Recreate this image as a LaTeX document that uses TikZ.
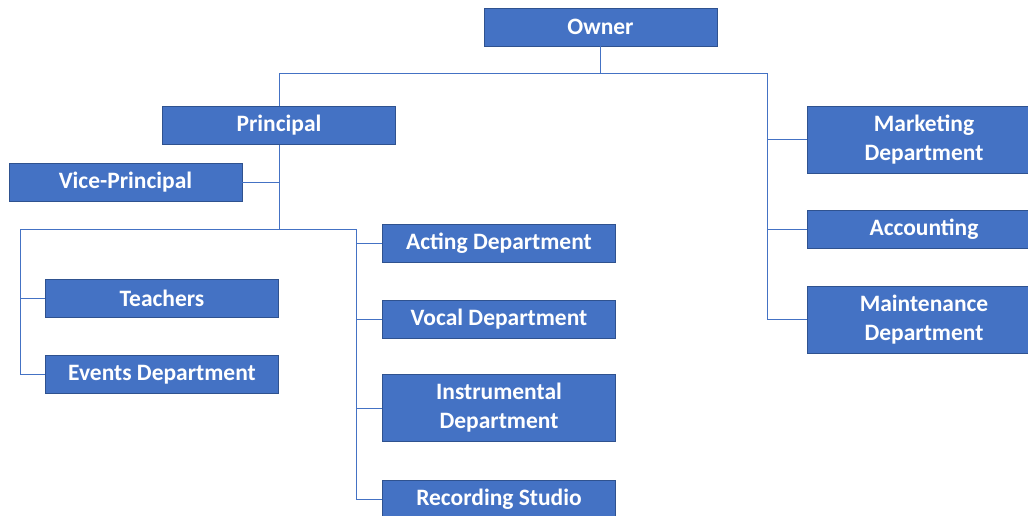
\documentclass[tikz,border=0pt]{standalone}
\usepackage{fontspec}
\setmainfont{Carlito}
\definecolor{boxfill}{HTML}{4472C4}
\definecolor{boxedge}{HTML}{2F528F}
\definecolor{linecol}{HTML}{4472C4}
\begin{document}
\begin{tikzpicture}[x=1pt,y=-1pt,
  orgbox/.style={draw=boxedge,fill=boxfill,line width=0.8pt,text=white,
    font=\fontsize{23.5}{29}\selectfont\bfseries,align=center,
    minimum width=233pt,inner sep=0pt,anchor=center},
  onebox/.style={orgbox,minimum height=38pt},
  twobox/.style={orgbox,minimum height=67pt},
  conn/.style={draw=linecol,line width=1pt}]
\useasboundingbox (0,0) rectangle (1028,515);
\node[onebox] (owner) at (600.5,27) {Owner};
\node[onebox] (principal) at (279,125.5) {Principal};
\node[onebox] (vice) at (125.5,182.5) {Vice-Principal};
\node[onebox] (teachers) at (162,298) {Teachers};
\node[onebox] (events) at (162,374.5) {Events Department};
\node[onebox] (acting) at (499,243) {Acting Department};
\node[onebox] (vocal) at (499,319.5) {Vocal Department};
\node[twobox] (instr) at (499,408) {Instrumental\\Department};
\node[onebox] (rec) at (499,499) {Recording Studio};
\node[twobox] (mkt) at (924,139.5) {Marketing\\Department};
\node[onebox] (acc) at (924,229) {Accounting};
\node[twobox] (maint) at (924,319.5) {Maintenance\\Department};
% coordinates
\coordinate (ownerj) at (600.5,73);
\coordinate (leftj) at (279,73);
\coordinate (rightj) at (767,73);
\coordinate (princj) at (279,229);
\coordinate (lbus) at (20,229);
\coordinate (mbus) at (356,229);
% connectors
\draw[conn] (owner.south) -- (ownerj);
\draw[conn] (leftj) -- (rightj);
\draw[conn] (leftj) -- (principal.north);
\draw[conn] (rightj) |- (maint.west);
\draw[conn] (rightj |- mkt.west) -- (mkt.west);
\draw[conn] (rightj |- acc.west) -- (acc.west);
\draw[conn] (principal.south) -- (princj);
\draw[conn] (vice.east) -- (vice.east -| princj);
\draw[conn] (lbus) -- (mbus);
\draw[conn] (lbus) |- (events.west);
\draw[conn] (lbus |- teachers.west) -- (teachers.west);
\draw[conn] (mbus) |- (rec.west);
\draw[conn] (mbus |- acting.west) -- (acting.west);
\draw[conn] (mbus |- vocal.west) -- (vocal.west);
\draw[conn] (mbus |- instr.west) -- (instr.west);
\end{tikzpicture}
\end{document}
